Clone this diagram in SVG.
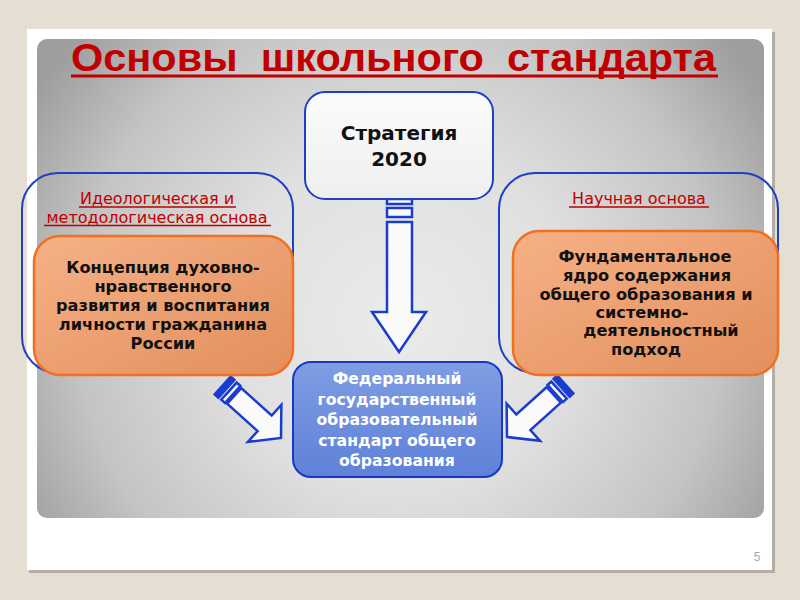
<svg xmlns="http://www.w3.org/2000/svg" width="800" height="600" viewBox="0 0 800 600">
<defs>
<radialGradient id="panelGrad" gradientUnits="userSpaceOnUse" cx="400" cy="320" r="430">
<stop offset="0" stop-color="#ebebeb"/>
<stop offset="0.4" stop-color="#e0e0e0"/>
<stop offset="0.75" stop-color="#c4c4c4"/>
<stop offset="1" stop-color="#9e9e9e"/>
</radialGradient>
<linearGradient id="orangeGrad" x1="0" y1="0" x2="1" y2="1">
<stop offset="0" stop-color="#f6b187"/>
<stop offset="1" stop-color="#e28f5c"/>
</linearGradient>
<linearGradient id="blueGrad" x1="0" y1="0" x2="0" y2="1">
<stop offset="0" stop-color="#7f9de3"/>
<stop offset="1" stop-color="#5f81d8"/>
</linearGradient>
<linearGradient id="whiteGrad" x1="0" y1="0" x2="0" y2="1">
<stop offset="0" stop-color="#fbfbfb"/>
<stop offset="1" stop-color="#efefef"/>
</linearGradient>
<g id="diagArrow">
<path class="arrow" d="M0,0 L-22,-25 L-22,-10.5 L-63,-10.5 L-63,10.5 L-22,10.5 L-22,25 Z"/>
<rect class="arrow" x="-70" y="-11.5" width="5" height="23"/>
<rect x="-79" y="-12.5" width="6" height="25" fill="#1a3ccf" stroke="#1a3ccf" stroke-width="1.5"/>
</g>
</defs>
<style>
.outline{fill:none;stroke:#1f3fc4;stroke-width:2}
.orange{fill:url(#orangeGrad);stroke:#f26f1f;stroke-width:2.5}
.arrow{fill:#fafafa;stroke:#1a3ccf;stroke-width:2.5;stroke-linejoin:miter}
.hdr{font-family:"DejaVu Sans",Verdana,sans-serif;font-size:16px;fill:#c00000;text-anchor:middle}
.ul{stroke:#c00000;stroke-width:1.5}
.body{font-family:"DejaVu Sans",Verdana,sans-serif;font-weight:bold;font-size:16.2px;fill:#111;text-anchor:middle}
.wbody{font-family:"DejaVu Sans",Verdana,sans-serif;font-weight:bold;font-size:15.7px;fill:#ffffff;text-anchor:middle}
</style>
<rect x="0" y="0" width="800" height="600" fill="#e4ded3"/>
<rect x="29" y="32" width="746" height="541" fill="#b3ada3"/>
<rect x="27" y="29" width="745" height="541" fill="#ffffff"/>
<rect x="37" y="39" width="727" height="479" rx="10" fill="url(#panelGrad)"/>
<text x="757" y="561" font-family="Liberation Sans, sans-serif" font-size="12" fill="#a8a8a8" text-anchor="middle">5</text>

<g id="title">
<text x="71" y="71" xml:space="preserve" font-family="Liberation Sans, Arial, sans-serif" font-weight="bold" font-size="38" fill="#c00000" textLength="645" lengthAdjust="spacingAndGlyphs">Основы  школьного  стандарта</text>
<rect x="71" y="74.5" width="647" height="3" fill="#c00000"/>
</g>

<g id="connectors">
<g id="arrow-down">
<path class="arrow" d="M387,222 H412 V312 H426 L399,352 L372,312 H387 Z"/>
<rect class="arrow" x="387" y="208" width="25" height="9"/>
<rect class="arrow" x="387" y="199" width="25" height="5"/>
</g>
<use id="arrow-left" href="#diagArrow" transform="translate(281,438) rotate(42)"/>
<use id="arrow-right" href="#diagArrow" transform="translate(507,437) rotate(138)"/>
</g>

<g id="strategy">
<rect x="305" y="92" width="188" height="107" rx="20" fill="url(#whiteGrad)" stroke="#1f3fc4" stroke-width="2"/>
<text x="399" y="140" font-family="DejaVu Sans, Verdana, sans-serif" font-weight="bold" font-size="20" fill="#111" text-anchor="middle">Стратегия</text>
<text x="399" y="166" font-family="DejaVu Sans, Verdana, sans-serif" font-weight="bold" font-size="20" fill="#111" text-anchor="middle">2020</text>
</g>

<g id="left-group">
<rect class="outline" x="22" y="173" width="271" height="200" rx="36"/>
<text class="hdr" x="157" y="204">Идеологическая и</text>
<line class="ul" x1="79" y1="207" x2="236" y2="207"/>
<text class="hdr" x="157" y="222.5">методологическая основа</text>
<line class="ul" x1="44" y1="225.5" x2="271" y2="225.5"/>
</g>
<g id="left-concept">
<rect class="orange" x="34" y="236" width="259" height="139" rx="26"/>
<text class="body" x="163" y="273">Концепция духовно-</text>
<text class="body" x="163" y="292">нравственного</text>
<text class="body" x="163" y="311">развития и воспитания</text>
<text class="body" x="163" y="330">личности гражданина</text>
<text class="body" x="163" y="349">России</text>
</g>

<g id="right-group">
<rect class="outline" x="499" y="173" width="279" height="200" rx="36"/>
<text class="hdr" x="639" y="204">Научная основа</text>
<line class="ul" x1="569" y1="207" x2="709" y2="207"/>
</g>
<g id="right-core">
<rect class="orange" x="513" y="231" width="265" height="144" rx="26"/>
<text class="body" x="645" y="262">Фундаментальное</text>
<text class="body" x="647" y="281">ядро содержания</text>
<text class="body" x="646" y="300">общего образования и</text>
<text class="body" x="642" y="317.5">системно-</text>
<text class="body" x="661" y="336">деятельностный</text>
<text class="body" x="646" y="354.5">подход</text>
</g>

<g id="fgos">
<rect x="293" y="362" width="209" height="115" rx="18" fill="url(#blueGrad)" stroke="#1a36c4" stroke-width="2"/>
<text class="wbody" x="397" y="384">Федеральный</text>
<text class="wbody" x="397" y="405">государственный</text>
<text class="wbody" x="397" y="425">образовательный</text>
<text class="wbody" x="397" y="446">стандарт общего</text>
<text class="wbody" x="397" y="466">образования</text>
</g>
</svg>
